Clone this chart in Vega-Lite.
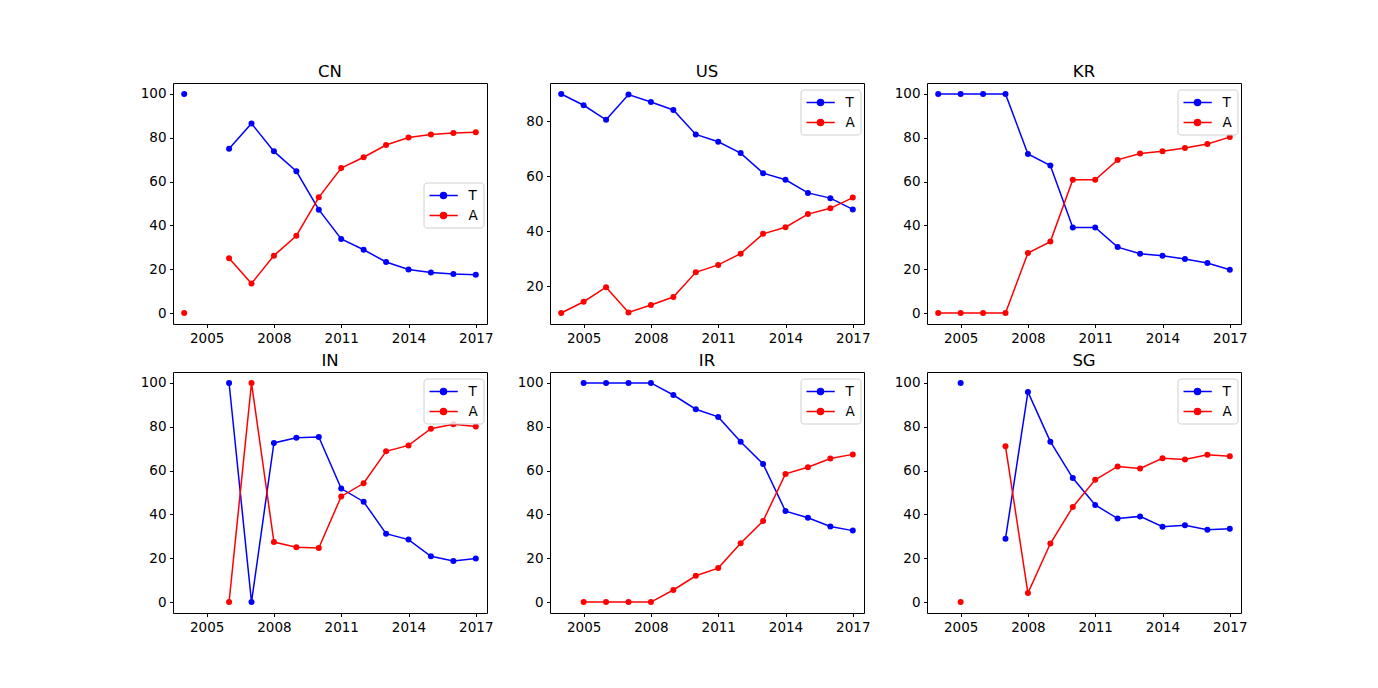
{
  "$schema": "https://vega.github.io/schema/vega-lite/v6.json",
  "background": "white",
  "padding": {"left": 139, "top": 63, "right": 5, "bottom": 5},
  "bounds": "flush",
  "columns": 3,
  "spacing": {"row": 48, "column": 63},
  "resolve": {"scale": {"x": "independent", "y": "independent", "color": "independent"}, "legend": {"color": "independent"}},
  "config": {
    "font": "DejaVu Sans",
    "view": {"stroke": "black", "strokeWidth": 1},
    "axis": {"domain": false, "grid": false, "ticks": true, "tickColor": "black", "tickWidth": 1, "tickSize": 3.5, "labelFontSize": 13.5, "labelColor": "black", "labelFont": "DejaVu Sans", "labelPadding": 3.5, "labelFlush": false, "labelOverlap": false, "title": null},
    "title": {"fontSize": 16.5, "fontWeight": "normal", "font": "DejaVu Sans", "color": "black", "baseline": "alphabetic", "offset": 2.5, "anchor": "middle", "frame": "group"},
    "legend": {"labelFontSize": 13.5, "labelFont": "DejaVu Sans", "labelColor": "black", "padding": 5, "rowPadding": 5, "cornerRadius": 3, "strokeColor": "#d0d0d0", "fillColor": "rgba(255,255,255,0.8)", "symbolSize": 196, "symbolStrokeWidth": 1.5, "labelOffset": 24, "title": null}
  },
  "datasets": {
    "d": [
      {"c":"CN","y":2004,"s":"T","v":100},{"c":"CN","y":2005,"s":"T","v":null},{"c":"CN","y":2006,"s":"T","v":75},{"c":"CN","y":2007,"s":"T","v":86.5},{"c":"CN","y":2008,"s":"T","v":73.8},{"c":"CN","y":2009,"s":"T","v":64.7},{"c":"CN","y":2010,"s":"T","v":47.2},{"c":"CN","y":2011,"s":"T","v":33.8},{"c":"CN","y":2012,"s":"T","v":28.9},{"c":"CN","y":2013,"s":"T","v":23.3},{"c":"CN","y":2014,"s":"T","v":19.9},{"c":"CN","y":2015,"s":"T","v":18.5},{"c":"CN","y":2016,"s":"T","v":17.8},{"c":"CN","y":2017,"s":"T","v":17.5},
      {"c":"CN","y":2004,"s":"A","v":0},{"c":"CN","y":2005,"s":"A","v":null},{"c":"CN","y":2006,"s":"A","v":25},{"c":"CN","y":2007,"s":"A","v":13.5},{"c":"CN","y":2008,"s":"A","v":26.2},{"c":"CN","y":2009,"s":"A","v":35.3},{"c":"CN","y":2010,"s":"A","v":52.8},{"c":"CN","y":2011,"s":"A","v":66.2},{"c":"CN","y":2012,"s":"A","v":71.1},{"c":"CN","y":2013,"s":"A","v":76.7},{"c":"CN","y":2014,"s":"A","v":80.1},{"c":"CN","y":2015,"s":"A","v":81.5},{"c":"CN","y":2016,"s":"A","v":82.2},{"c":"CN","y":2017,"s":"A","v":82.5},
      {"c":"US","y":2004,"s":"T","v":89.9},{"c":"US","y":2005,"s":"T","v":85.8},{"c":"US","y":2006,"s":"T","v":80.5},{"c":"US","y":2007,"s":"T","v":89.7},{"c":"US","y":2008,"s":"T","v":87.0},{"c":"US","y":2009,"s":"T","v":84.1},{"c":"US","y":2010,"s":"T","v":75.2},{"c":"US","y":2011,"s":"T","v":72.5},{"c":"US","y":2012,"s":"T","v":68.4},{"c":"US","y":2013,"s":"T","v":61.1},{"c":"US","y":2014,"s":"T","v":58.7},{"c":"US","y":2015,"s":"T","v":53.9},{"c":"US","y":2016,"s":"T","v":52.0},{"c":"US","y":2017,"s":"T","v":47.9},
      {"c":"US","y":2004,"s":"A","v":10.2},{"c":"US","y":2005,"s":"A","v":14.3},{"c":"US","y":2006,"s":"A","v":19.6},{"c":"US","y":2007,"s":"A","v":10.4},{"c":"US","y":2008,"s":"A","v":13.1},{"c":"US","y":2009,"s":"A","v":16.0},{"c":"US","y":2010,"s":"A","v":25.0},{"c":"US","y":2011,"s":"A","v":27.7},{"c":"US","y":2012,"s":"A","v":31.8},{"c":"US","y":2013,"s":"A","v":39.0},{"c":"US","y":2014,"s":"A","v":41.4},{"c":"US","y":2015,"s":"A","v":46.2},{"c":"US","y":2016,"s":"A","v":48.3},{"c":"US","y":2017,"s":"A","v":52.2},
      {"c":"KR","y":2004,"s":"T","v":100},{"c":"KR","y":2005,"s":"T","v":100},{"c":"KR","y":2006,"s":"T","v":100},{"c":"KR","y":2007,"s":"T","v":100},{"c":"KR","y":2008,"s":"T","v":72.6},{"c":"KR","y":2009,"s":"T","v":67.3},{"c":"KR","y":2010,"s":"T","v":39.1},{"c":"KR","y":2011,"s":"T","v":39.1},{"c":"KR","y":2012,"s":"T","v":30.1},{"c":"KR","y":2013,"s":"T","v":27.1},{"c":"KR","y":2014,"s":"T","v":26.2},{"c":"KR","y":2015,"s":"T","v":24.7},{"c":"KR","y":2016,"s":"T","v":22.8},{"c":"KR","y":2017,"s":"T","v":19.8},
      {"c":"KR","y":2004,"s":"A","v":0},{"c":"KR","y":2005,"s":"A","v":0},{"c":"KR","y":2006,"s":"A","v":0},{"c":"KR","y":2007,"s":"A","v":0},{"c":"KR","y":2008,"s":"A","v":27.4},{"c":"KR","y":2009,"s":"A","v":32.6},{"c":"KR","y":2010,"s":"A","v":60.8},{"c":"KR","y":2011,"s":"A","v":60.8},{"c":"KR","y":2012,"s":"A","v":69.9},{"c":"KR","y":2013,"s":"A","v":72.8},{"c":"KR","y":2014,"s":"A","v":73.8},{"c":"KR","y":2015,"s":"A","v":75.3},{"c":"KR","y":2016,"s":"A","v":77.2},{"c":"KR","y":2017,"s":"A","v":80.3},
      {"c":"IN","y":2004,"s":"T","v":null},{"c":"IN","y":2005,"s":"T","v":null},{"c":"IN","y":2006,"s":"T","v":100},{"c":"IN","y":2007,"s":"T","v":0},{"c":"IN","y":2008,"s":"T","v":72.6},{"c":"IN","y":2009,"s":"T","v":75.0},{"c":"IN","y":2010,"s":"T","v":75.3},{"c":"IN","y":2011,"s":"T","v":51.8},{"c":"IN","y":2012,"s":"T","v":45.8},{"c":"IN","y":2013,"s":"T","v":31.2},{"c":"IN","y":2014,"s":"T","v":28.5},{"c":"IN","y":2015,"s":"T","v":20.9},{"c":"IN","y":2016,"s":"T","v":18.7},{"c":"IN","y":2017,"s":"T","v":19.9},
      {"c":"IN","y":2004,"s":"A","v":null},{"c":"IN","y":2005,"s":"A","v":null},{"c":"IN","y":2006,"s":"A","v":0},{"c":"IN","y":2007,"s":"A","v":100},{"c":"IN","y":2008,"s":"A","v":27.4},{"c":"IN","y":2009,"s":"A","v":25.0},{"c":"IN","y":2010,"s":"A","v":24.7},{"c":"IN","y":2011,"s":"A","v":48.2},{"c":"IN","y":2012,"s":"A","v":54.2},{"c":"IN","y":2013,"s":"A","v":68.8},{"c":"IN","y":2014,"s":"A","v":71.5},{"c":"IN","y":2015,"s":"A","v":79.1},{"c":"IN","y":2016,"s":"A","v":81.2},{"c":"IN","y":2017,"s":"A","v":80.1},
      {"c":"IR","y":2004,"s":"T","v":null},{"c":"IR","y":2005,"s":"T","v":100},{"c":"IR","y":2006,"s":"T","v":100},{"c":"IR","y":2007,"s":"T","v":100},{"c":"IR","y":2008,"s":"T","v":100},{"c":"IR","y":2009,"s":"T","v":94.5},{"c":"IR","y":2010,"s":"T","v":88.0},{"c":"IR","y":2011,"s":"T","v":84.5},{"c":"IR","y":2012,"s":"T","v":73.2},{"c":"IR","y":2013,"s":"T","v":63.0},{"c":"IR","y":2014,"s":"T","v":41.5},{"c":"IR","y":2015,"s":"T","v":38.5},{"c":"IR","y":2016,"s":"T","v":34.5},{"c":"IR","y":2017,"s":"T","v":32.6},
      {"c":"IR","y":2004,"s":"A","v":null},{"c":"IR","y":2005,"s":"A","v":0},{"c":"IR","y":2006,"s":"A","v":0},{"c":"IR","y":2007,"s":"A","v":0},{"c":"IR","y":2008,"s":"A","v":0},{"c":"IR","y":2009,"s":"A","v":5.5},{"c":"IR","y":2010,"s":"A","v":12.0},{"c":"IR","y":2011,"s":"A","v":15.5},{"c":"IR","y":2012,"s":"A","v":26.8},{"c":"IR","y":2013,"s":"A","v":37.0},{"c":"IR","y":2014,"s":"A","v":58.5},{"c":"IR","y":2015,"s":"A","v":61.5},{"c":"IR","y":2016,"s":"A","v":65.5},{"c":"IR","y":2017,"s":"A","v":67.4},
      {"c":"SG","y":2004,"s":"T","v":null},{"c":"SG","y":2005,"s":"T","v":100},{"c":"SG","y":2006,"s":"T","v":null},{"c":"SG","y":2007,"s":"T","v":28.9},{"c":"SG","y":2008,"s":"T","v":95.9},{"c":"SG","y":2009,"s":"T","v":73.2},{"c":"SG","y":2010,"s":"T","v":56.6},{"c":"SG","y":2011,"s":"T","v":44.3},{"c":"SG","y":2012,"s":"T","v":38.1},{"c":"SG","y":2013,"s":"T","v":39.1},{"c":"SG","y":2014,"s":"T","v":34.4},{"c":"SG","y":2015,"s":"T","v":35.0},{"c":"SG","y":2016,"s":"T","v":33.0},{"c":"SG","y":2017,"s":"T","v":33.5},
      {"c":"SG","y":2004,"s":"A","v":null},{"c":"SG","y":2005,"s":"A","v":0},{"c":"SG","y":2006,"s":"A","v":null},{"c":"SG","y":2007,"s":"A","v":71.1},{"c":"SG","y":2008,"s":"A","v":4.1},{"c":"SG","y":2009,"s":"A","v":26.7},{"c":"SG","y":2010,"s":"A","v":43.4},{"c":"SG","y":2011,"s":"A","v":55.8},{"c":"SG","y":2012,"s":"A","v":61.9},{"c":"SG","y":2013,"s":"A","v":61.0},{"c":"SG","y":2014,"s":"A","v":65.6},{"c":"SG","y":2015,"s":"A","v":65.1},{"c":"SG","y":2016,"s":"A","v":67.2},{"c":"SG","y":2017,"s":"A","v":66.6}
    ]
  },
  "concat": [
    {
      "width": 314, "height": 241, "title": {"text": "CN"},
      "data": {"name": "d"}, "transform": [{"filter": "datum.c === 'CN'"}],
      "mark": {"type": "line", "invalid": "break-paths-filter-domains", "strokeWidth": 1.5, "point": {"filled": true, "size": 36, "opacity": 1}},
      "encoding": {
        "x": {"field": "y", "type": "quantitative", "scale": {"domain": [2003.5, 2017.5], "nice": false, "zero": false}, "axis": {"values": [2005, 2008, 2011, 2014, 2017], "format": "d"}},
        "y": {"field": "v", "type": "quantitative", "scale": {"domain": [-5, 105], "nice": false, "zero": false}, "axis": {"values": [0, 20, 40, 60, 80, 100]}},
        "color": {"field": "s", "type": "nominal", "scale": {"domain": ["T", "A"], "range": ["#0000ff", "#ff0000"]},
          "legend": {"orient": "none", "legendX": 250.5, "legendY": 99.5, "symbolType": "M-1,0H3.04M0.57,0A0.43,0.43,0,1,0,1.43,0A0.43,0.43,0,1,0,0.57,0Z",
            "encode": {"symbols": {"update": {"fill": [{"test": "datum.value === 'T'", "value": "#0000ff"}, {"value": "#ff0000"}], "stroke": [{"test": "datum.value === 'T'", "value": "#0000ff"}, {"value": "#ff0000"}], "opacity": {"value": 1}}}}}}
      }
    },
    {
      "width": 314, "height": 241, "title": {"text": "US"},
      "data": {"name": "d"}, "transform": [{"filter": "datum.c === 'US'"}],
      "mark": {"type": "line", "invalid": "break-paths-filter-domains", "strokeWidth": 1.5, "point": {"filled": true, "size": 36, "opacity": 1}},
      "encoding": {
        "x": {"field": "y", "type": "quantitative", "scale": {"domain": [2003.5, 2017.5], "nice": false, "zero": false}, "axis": {"values": [2005, 2008, 2011, 2014, 2017], "format": "d"}},
        "y": {"field": "v", "type": "quantitative", "scale": {"domain": [6.2, 93.9], "nice": false, "zero": false}, "axis": {"values": [20, 40, 60, 80]}},
        "color": {"field": "s", "type": "nominal", "scale": {"domain": ["T", "A"], "range": ["#0000ff", "#ff0000"]},
          "legend": {"orient": "none", "legendX": 250.5, "legendY": 6.5, "symbolType": "M-1,0H3.04M0.57,0A0.43,0.43,0,1,0,1.43,0A0.43,0.43,0,1,0,0.57,0Z",
            "encode": {"symbols": {"update": {"fill": [{"test": "datum.value === 'T'", "value": "#0000ff"}, {"value": "#ff0000"}], "stroke": [{"test": "datum.value === 'T'", "value": "#0000ff"}, {"value": "#ff0000"}], "opacity": {"value": 1}}}}}}
      }
    },
    {
      "width": 314, "height": 241, "title": {"text": "KR"},
      "data": {"name": "d"}, "transform": [{"filter": "datum.c === 'KR'"}],
      "mark": {"type": "line", "invalid": "break-paths-filter-domains", "strokeWidth": 1.5, "point": {"filled": true, "size": 36, "opacity": 1}},
      "encoding": {
        "x": {"field": "y", "type": "quantitative", "scale": {"domain": [2003.5, 2017.5], "nice": false, "zero": false}, "axis": {"values": [2005, 2008, 2011, 2014, 2017], "format": "d"}},
        "y": {"field": "v", "type": "quantitative", "scale": {"domain": [-5, 105], "nice": false, "zero": false}, "axis": {"values": [0, 20, 40, 60, 80, 100]}},
        "color": {"field": "s", "type": "nominal", "scale": {"domain": ["T", "A"], "range": ["#0000ff", "#ff0000"]},
          "legend": {"orient": "none", "legendX": 250.5, "legendY": 6.5, "symbolType": "M-1,0H3.04M0.57,0A0.43,0.43,0,1,0,1.43,0A0.43,0.43,0,1,0,0.57,0Z",
            "encode": {"symbols": {"update": {"fill": [{"test": "datum.value === 'T'", "value": "#0000ff"}, {"value": "#ff0000"}], "stroke": [{"test": "datum.value === 'T'", "value": "#0000ff"}, {"value": "#ff0000"}], "opacity": {"value": 1}}}}}}
      }
    },
    {
      "width": 314, "height": 241, "title": {"text": "IN"},
      "data": {"name": "d"}, "transform": [{"filter": "datum.c === 'IN'"}],
      "mark": {"type": "line", "invalid": "break-paths-filter-domains", "strokeWidth": 1.5, "point": {"filled": true, "size": 36, "opacity": 1}},
      "encoding": {
        "x": {"field": "y", "type": "quantitative", "scale": {"domain": [2003.5, 2017.5], "nice": false, "zero": false}, "axis": {"values": [2005, 2008, 2011, 2014, 2017], "format": "d"}},
        "y": {"field": "v", "type": "quantitative", "scale": {"domain": [-5, 105], "nice": false, "zero": false}, "axis": {"values": [0, 20, 40, 60, 80, 100]}},
        "color": {"field": "s", "type": "nominal", "scale": {"domain": ["T", "A"], "range": ["#0000ff", "#ff0000"]},
          "legend": {"orient": "none", "legendX": 250.5, "legendY": 6.5, "symbolType": "M-1,0H3.04M0.57,0A0.43,0.43,0,1,0,1.43,0A0.43,0.43,0,1,0,0.57,0Z",
            "encode": {"symbols": {"update": {"fill": [{"test": "datum.value === 'T'", "value": "#0000ff"}, {"value": "#ff0000"}], "stroke": [{"test": "datum.value === 'T'", "value": "#0000ff"}, {"value": "#ff0000"}], "opacity": {"value": 1}}}}}}
      }
    },
    {
      "width": 314, "height": 241, "title": {"text": "IR"},
      "data": {"name": "d"}, "transform": [{"filter": "datum.c === 'IR'"}],
      "mark": {"type": "line", "invalid": "break-paths-filter-domains", "strokeWidth": 1.5, "point": {"filled": true, "size": 36, "opacity": 1}},
      "encoding": {
        "x": {"field": "y", "type": "quantitative", "scale": {"domain": [2003.5, 2017.5], "nice": false, "zero": false}, "axis": {"values": [2005, 2008, 2011, 2014, 2017], "format": "d"}},
        "y": {"field": "v", "type": "quantitative", "scale": {"domain": [-5, 105], "nice": false, "zero": false}, "axis": {"values": [0, 20, 40, 60, 80, 100]}},
        "color": {"field": "s", "type": "nominal", "scale": {"domain": ["T", "A"], "range": ["#0000ff", "#ff0000"]},
          "legend": {"orient": "none", "legendX": 250.5, "legendY": 6.5, "symbolType": "M-1,0H3.04M0.57,0A0.43,0.43,0,1,0,1.43,0A0.43,0.43,0,1,0,0.57,0Z",
            "encode": {"symbols": {"update": {"fill": [{"test": "datum.value === 'T'", "value": "#0000ff"}, {"value": "#ff0000"}], "stroke": [{"test": "datum.value === 'T'", "value": "#0000ff"}, {"value": "#ff0000"}], "opacity": {"value": 1}}}}}}
      }
    },
    {
      "width": 314, "height": 241, "title": {"text": "SG"},
      "data": {"name": "d"}, "transform": [{"filter": "datum.c === 'SG'"}],
      "mark": {"type": "line", "invalid": "break-paths-filter-domains", "strokeWidth": 1.5, "point": {"filled": true, "size": 36, "opacity": 1}},
      "encoding": {
        "x": {"field": "y", "type": "quantitative", "scale": {"domain": [2003.5, 2017.5], "nice": false, "zero": false}, "axis": {"values": [2005, 2008, 2011, 2014, 2017], "format": "d"}},
        "y": {"field": "v", "type": "quantitative", "scale": {"domain": [-5, 105], "nice": false, "zero": false}, "axis": {"values": [0, 20, 40, 60, 80, 100]}},
        "color": {"field": "s", "type": "nominal", "scale": {"domain": ["T", "A"], "range": ["#0000ff", "#ff0000"]},
          "legend": {"orient": "none", "legendX": 250.5, "legendY": 6.5, "symbolType": "M-1,0H3.04M0.57,0A0.43,0.43,0,1,0,1.43,0A0.43,0.43,0,1,0,0.57,0Z",
            "encode": {"symbols": {"update": {"fill": [{"test": "datum.value === 'T'", "value": "#0000ff"}, {"value": "#ff0000"}], "stroke": [{"test": "datum.value === 'T'", "value": "#0000ff"}, {"value": "#ff0000"}], "opacity": {"value": 1}}}}}}
      }
    }
  ]
}
